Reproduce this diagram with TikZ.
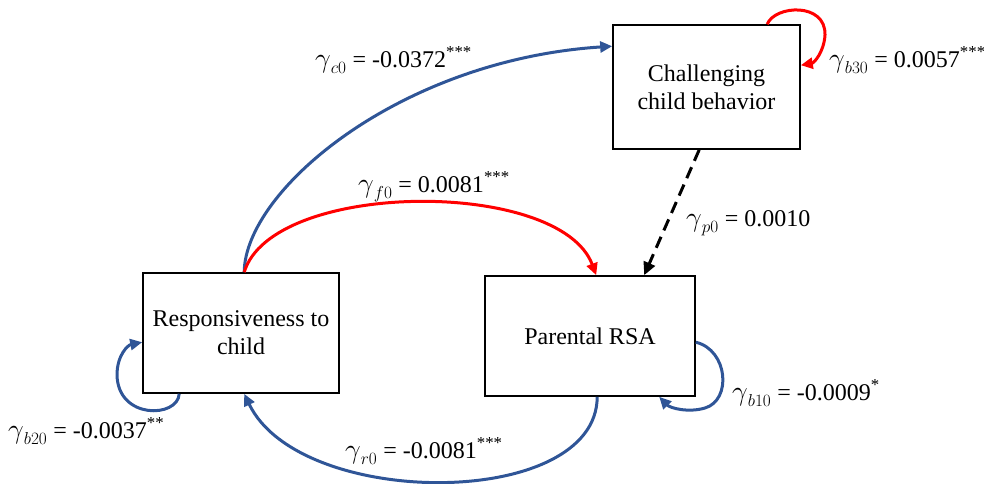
\documentclass[tikz,border=0pt]{standalone}
\usepackage{fontspec}
\usepackage{graphicx}
\setmainfont{Liberation Serif}
\usetikzlibrary{arrows.meta}
\definecolor{cblue}{RGB}{47,85,151}
\definecolor{cred}{RGB}{255,0,0}
\newcommand\gam{\mathord{\scalebox{1.12}{$\gamma$}}}
\begin{document}
\begin{tikzpicture}[x=1pt,y=-1pt,
  box/.style={draw,line width=1.6pt,minimum width=#1,inner sep=0pt,align=center,font=\fontsize{24}{28}\selectfont},
  lab/.style={anchor=base west,inner sep=0pt,font=\fontsize{24}{28}\selectfont},
  bl/.style={draw=cblue,line width=3pt,-{Triangle[length=12pt,width=11pt]}},
  rd/.style={draw=cred,line width=3pt,-{Triangle[length=12pt,width=11pt]}},
  bk/.style={draw=black,line width=3pt,dash pattern=on 12pt off 7pt,-{Triangle[length=13pt,width=12pt]}}]
\useasboundingbox (0,0) rectangle (984,483);
\node[box=187pt,minimum height=124pt] (ch) at (706.5,87) {Challenging\\child behavior};
\node[box=196pt,minimum height=120pt] (rs) at (241,333) {Responsiveness to\\child};
\node[box=210pt,minimum height=120pt] (pr) at (590,336) {Parental RSA};
% anchor points
\coordinate (rsT) at ([xshift=102pt]rs.north west);
\coordinate (chW) at ([yshift=-22pt]ch.north west);
\coordinate (prT) at ([xshift=112pt]pr.north west);
\coordinate (prT2) at ([xshift=160pt]pr.north west);
\coordinate (chB) at ([xshift=87pt]ch.south west);
\coordinate (prB) at ([xshift=113pt]pr.south west);
\coordinate (rsB) at ([xshift=102pt]rs.south west);
\coordinate (rsB2) at ([xshift=37pt]rs.south west);
\coordinate (rsW) at ([yshift=-70pt]rs.north west);
\coordinate (prE) at ([yshift=-67pt]pr.north east);
\coordinate (prB2) at ([xshift=175pt]pr.south west);
\coordinate (chT) at ([xshift=155pt]ch.north west);
\coordinate (chE) at ([yshift=-41pt]ch.north east);
% connectors
\draw[bl] (rsT) .. controls (245,190) and (400,60) .. (chW);
\draw[rd] (rsT) .. controls (272,180) and (560,178) .. (prT);
\draw[bl] (prB) .. controls (597,510) and (300,510) .. (rsB);
\draw[bk] (chB) -- (prT2);
\draw[bl] (rsB2) .. controls (178,418) and (118,420) .. (117,375) .. controls (117,355) and (128,345) .. (rsW);
\draw[bl] (prE) .. controls (728,350) and (732,400) .. (705,408) .. controls (688,413) and (670,408) .. (prB2);
\draw[rd] (chT) .. controls (775,5) and (826,2) .. (825,35) .. controls (824,52) and (814,63) .. (chE);
% labels
\node[lab] (l1) at (315,67) {$\gam_{c0}$ = -0.0372\textsuperscript{***}};
\node[lab] (l2) at (358,192) {$\gam_{f0}$ = 0.0081\textsuperscript{***}};
\node[lab] (l3) at (829,67) {$\gam_{b30}$ = 0.0057\textsuperscript{***}};
\node[lab] (l4) at (686,226) {$\gam_{p0}$ = 0.0010};
\node[lab] (l5) at (8,438) {$\gam_{b20}$ = -0.0037\textsuperscript{**}};
\node[lab] (l6) at (345,458) {$\gam_{r0}$ = -0.0081\textsuperscript{***}};
\node[lab] (l7) at (732,400) {$\gam_{b10}$ = -0.0009\textsuperscript{*}};
\end{tikzpicture}
\end{document}
